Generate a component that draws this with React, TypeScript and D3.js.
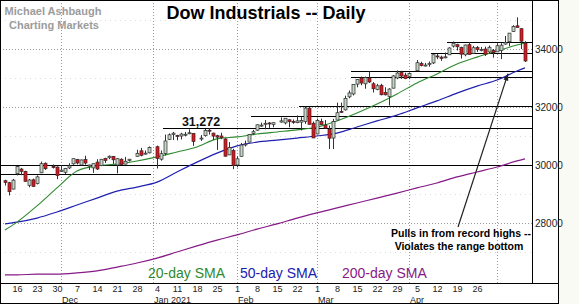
import React from 'react';
import * as d3 from 'd3';

// ---- daily candles (Dow Industrials) ----
const dates = [
  '2020-11-11', '2020-11-12', '2020-11-13', '2020-11-16', '2020-11-17', '2020-11-18', '2020-11-19', '2020-11-20',
  '2020-11-23', '2020-11-24', '2020-11-25', '2020-11-27', '2020-11-30', '2020-12-01', '2020-12-02', '2020-12-03',
  '2020-12-04', '2020-12-07', '2020-12-08', '2020-12-09', '2020-12-10', '2020-12-11', '2020-12-14', '2020-12-15',
  '2020-12-16', '2020-12-17', '2020-12-18', '2020-12-21', '2020-12-22', '2020-12-23', '2020-12-24', '2020-12-28',
  '2020-12-29', '2020-12-30', '2020-12-31', '2021-01-04', '2021-01-05', '2021-01-06', '2021-01-07', '2021-01-08',
  '2021-01-11', '2021-01-12', '2021-01-13', '2021-01-14', '2021-01-15', '2021-01-19', '2021-01-20', '2021-01-21',
  '2021-01-22', '2021-01-25', '2021-01-26', '2021-01-27', '2021-01-28', '2021-01-29', '2021-02-01', '2021-02-02',
  '2021-02-03', '2021-02-04', '2021-02-05', '2021-02-08', '2021-02-09', '2021-02-10', '2021-02-11', '2021-02-12',
  '2021-02-16', '2021-02-17', '2021-02-18', '2021-02-19', '2021-02-22', '2021-02-23', '2021-02-24', '2021-02-25',
  '2021-02-26', '2021-03-01', '2021-03-02', '2021-03-03', '2021-03-04', '2021-03-05', '2021-03-08', '2021-03-09',
  '2021-03-10', '2021-03-11', '2021-03-12', '2021-03-15', '2021-03-16', '2021-03-17', '2021-03-18', '2021-03-19',
  '2021-03-22', '2021-03-23', '2021-03-24', '2021-03-25', '2021-03-26', '2021-03-29', '2021-03-30', '2021-03-31',
  '2021-04-01', '2021-04-05', '2021-04-06', '2021-04-07', '2021-04-08', '2021-04-09', '2021-04-12', '2021-04-13',
  '2021-04-14', '2021-04-15', '2021-04-16', '2021-04-19', '2021-04-20', '2021-04-21', '2021-04-22', '2021-04-23',
  '2021-04-26', '2021-04-27', '2021-04-28', '2021-04-29', '2021-04-30', '2021-05-03', '2021-05-04', '2021-05-05',
  '2021-05-06', '2021-05-07', '2021-05-10', '2021-05-11', '2021-05-12',
];
const opens = [
  29460, 29390, 29170, 29700, 29860, 29780, 29300, 29490, 29360, 29730, 30060, 29950, 29930, 29780, 29750, 29900,
  30040, 30190, 30000, 30190, 29960, 29900, 30100, 29980, 30220, 30250, 30300, 30000, 30200, 30030, 30160, 30300,
  30490, 30400, 30420, 30630, 30200, 30400, 30880, 31050, 31020, 31000, 31060, 31080, 31090, 30900, 31010, 31200,
  31100, 31010, 31000, 30900, 30350, 30500, 30000, 30300, 30720, 30790, 31090, 31200, 31350, 31430, 31450, 31400,
  31480, 31450, 31560, 31500, 31460, 31480, 31500, 31960, 31440, 31070, 31500, 31380, 31240, 30930, 31550, 31850,
  31900, 32350, 32450, 32790, 33000, 32800, 33000, 32800, 32600, 32750, 32500, 32360, 32650, 33000, 33200, 33100,
  33050, 33250, 33500, 33430, 33500, 33520, 33760, 33720, 33700, 33800, 34100, 34150, 34050, 33800, 34150, 33850,
  34050, 33980, 34000, 33900, 33950, 33900, 33950, 34170, 34250, 34600, 34800, 34700, 34200,
];
const highs = [
  29490, 29420, 29520, 29964, 29900, 29800, 29520, 29530, 29640, 30117, 30090, 30020, 29950, 29990, 29900, 30060,
  30220, 30210, 30190, 30320, 30010, 30050, 30200, 30200, 30250, 30330, 30310, 30240, 30230, 30280, 30210, 30525,
  30590, 30500, 30640, 30670, 30500, 31050, 31090, 31140, 31040, 31110, 31140, 31230, 31100, 31030, 31240, 31272,
  31110, 31040, 31110, 30920, 30790, 30560, 30300, 30760, 30840, 31070, 31210, 31400, 31460, 31550, 31480, 31470,
  31640, 31620, 31570, 31570, 31710, 31650, 32010, 32010, 31500, 31600, 31600, 31550, 31360, 31590, 32150, 32150,
  32390, 32570, 32780, 32960, 33050, 33050, 33230, 32860, 32800, 32800, 32680, 32650, 33100, 33260, 33250, 33180,
  33180, 33620, 33560, 33520, 33570, 33810, 33830, 33770, 33880, 34060, 34260, 34180, 34080, 34150, 34240, 34110,
  34100, 34070, 34080, 34120, 34000, 34200, 34200, 34450, 34550, 34820, 35091, 34720, 34270,
];
const lows = [
  29290, 28950, 29160, 29640, 29650, 29420, 29230, 29250, 29330, 29720, 29830, 29880, 29510, 29760, 29690, 29860,
  30010, 30020, 29990, 30010, 29830, 29730, 29830, 29960, 30070, 30200, 30040, 29710, 29990, 30020, 30120, 30290,
  30300, 30360, 30400, 29880, 30150, 30330, 30870, 30860, 30850, 30880, 30990, 31060, 30660, 30830, 30980, 31050,
  30860, 30520, 30890, 30290, 30340, 29856, 29920, 30290, 30640, 30780, 31030, 31180, 31320, 31230, 31280, 31300,
  31460, 31400, 31300, 31420, 31440, 31190, 31420, 31400, 30930, 31060, 31380, 31260, 30550, 30550, 31550, 31800,
  31880, 32300, 32400, 32680, 32750, 32630, 32830, 32500, 32580, 32400, 32400, 32050, 32640, 32960, 32970, 32960,
  32960, 33240, 33400, 33400, 33390, 33480, 33650, 33590, 33680, 33790, 34050, 33950, 33670, 33750, 33800, 33830,
  33900, 33920, 33760, 33850, 33700, 33900, 33650, 34150, 34100, 34590, 34740, 34000, 33550,
];
const closes = [
  29397, 29080, 29479, 29950, 29783, 29438, 29483, 29263, 29591, 30046, 29872, 29910, 29638, 29823, 29883, 29969,
  30218, 30069, 30174, 30068, 29999, 30046, 29861, 30199, 30155, 30303, 30179, 30216, 30015, 30129, 30199, 30403,
  30335, 30409, 30606, 30223, 30391, 30829, 31041, 31097, 31008, 31068, 31060, 31112, 30814, 30930, 31188, 31176,
  30997, 30960, 30937, 30303, 30603, 29983, 30212, 30688, 30724, 31056, 31148, 31386, 31375, 31438, 31430, 31458,
  31523, 31613, 31494, 31494, 31522, 31537, 31962, 31402, 30932, 31535, 31391, 31270, 30924, 31496, 31802, 31833,
  32297, 32486, 32779, 32953, 32826, 33015, 32862, 32628, 32732, 32423, 32420, 32619, 33072, 33171, 33067, 32982,
  33153, 33527, 33430, 33446, 33503, 33801, 33746, 33677, 33730, 34035, 34200, 34077, 33821, 34137, 33815, 34043,
  33981, 33984, 33820, 34060, 33874, 34113, 34133, 34230, 34548, 34778, 34742, 34269, 33587,
];

// ---- moving averages ----
const smaDates = [
  '2020-11-11', '2020-11-16', '2020-11-23', '2020-11-30', '2020-12-07', '2020-12-14', '2020-12-21', '2020-12-28',
  '2021-01-04', '2021-01-11', '2021-01-18', '2021-01-25', '2021-02-01', '2021-02-08', '2021-02-15', '2021-02-22',
  '2021-03-01', '2021-03-08', '2021-03-15', '2021-03-22', '2021-03-29', '2021-04-05', '2021-04-12', '2021-04-19',
  '2021-04-26', '2021-05-03', '2021-05-10', '2021-05-12',
];
const sma20 = [
  27760, 28030, 28590, 29210, 29790, 29970, 30030, 30140, 30280, 30450, 30620, 30900, 30970, 31070, 31140, 31210,
  31310, 31520, 31790, 32100, 32450, 32830, 33140, 33480, 33720, 33930, 34140, 34210,
];
const sma50 = [
  27970, 28030, 28170, 28380, 28620, 28860, 29100, 29240, 29410, 29760, 30100, 30410, 30660, 30790, 30860, 30930,
  31000, 31100, 31310, 31520, 31720, 31970, 32210, 32480, 32720, 32930, 33240, 33350,
];
const sma200 = [
  26210, 26210, 26240, 26240, 26280, 26350, 26480, 26620, 26790, 27000, 27210, 27410, 27590, 27790, 27970, 28170,
  28350, 28520, 28690, 28860, 29030, 29210, 29380, 29590, 29760, 29930, 30140, 30210,
];

// ---- horizontal support / resistance levels ----
const levels = [34256, 33850, 33230, 33030, 32050, 31690, 31272, 30000, 29685];
const levelFrom = ['2021-04-15', '2021-04-09', '2021-03-12', '2021-03-12', '2021-02-23', '2021-02-05', '2021-01-06', null, null];
const levelTo = [null, null, null, null, null, null, null, null, '2020-12-31'];

// ---- axes ----
const yTicks = [28000, 30000, 32000, 34000];
const yMinor = [27000, 29000, 31000, 33000, 35000];
const weekTicks = [
  '2020-11-16', '2020-11-23', '2020-11-30', '2020-12-07', '2020-12-14', '2020-12-21', '2020-12-28', '2021-01-04',
  '2021-01-11', '2021-01-18', '2021-01-25', '2021-02-01', '2021-02-08', '2021-02-15', '2021-02-22', '2021-03-01',
  '2021-03-08', '2021-03-15', '2021-03-22', '2021-03-29', '2021-04-05', '2021-04-12', '2021-04-19', '2021-04-26',
];
const monthStarts = ['2020-12-01', '2021-01-01', '2021-02-01', '2021-03-01', '2021-04-01', '2021-05-03'];
const monthLabels = ['Dec', 'Jan 2021', 'Feb', 'Mar', 'Apr', ''];

const W = 579;
const H = 304;
const FRAME_R = 559;
const PLOT_R = 532;
const PLOT_B = 283;
const FONT = '"Liberation Sans", Arial, Helvetica, sans-serif';

const GREEN = '#2f8a2f';
const BLUE = '#2020b0';
const PURPLE = '#861a86';

const parse = d3.timeParse('%Y-%m-%d');
const fmt = d3.timeFormat('%Y-%m-%d');
const dayFmt = d3.timeFormat('%-d');

// every weekday gets a slot, holidays stay empty
const start = parse(dates[0])!;
const end = d3.timeDay.offset(parse(dates[dates.length - 1])!, 1);
const weekdays = d3.timeDay.range(start, end).filter(d => d.getDay() % 6 !== 0).map(fmt);

const x = d3.scalePoint<string>().domain(weekdays).range([5, 525]);
const y = d3.scaleLinear().domain([30000, 34000]).range([165, 49]);
const X = (d: string) => x(d) as number;

export default function App() {
  const smaLine = (vals: number[]) =>
    d3.line<number>()
      .x((_, i) => X(smaDates[i]))
      .y(v => y(v))
      .curve(d3.curveMonotoneX)(vals) || '';

  const tip = { x: X('2021-05-05') + 3, y: y(33150) };
  const tail = { x: 458, y: 227 };
  const ang = Math.atan2(tip.y - tail.y, tip.x - tail.x);
  const ah = 7;
  const head = [
    [tip.x, tip.y],
    [tip.x - ah * Math.cos(ang) + 2.5 * Math.sin(ang), tip.y - ah * Math.sin(ang) - 2.5 * Math.cos(ang)],
    [tip.x - ah * Math.cos(ang) - 2.5 * Math.sin(ang), tip.y - ah * Math.sin(ang) + 2.5 * Math.cos(ang)],
  ].map(p => p.join(',')).join(' ');

  return (
    <div style={{ position: 'absolute', left: 0, top: 0 }}>
      <svg width={W} height={H} style={{ display: 'block', fontFamily: FONT }}>
        <defs>
          <clipPath id="plot">
            <rect x={0} y={0} width={PLOT_R} height={PLOT_B} />
          </clipPath>
        </defs>
        <rect width={W} height={H} fill="#fff" />
        <rect x={FRAME_R} y={0} width={W - FRAME_R} height={H} fill="#fafaf4" />

        {/* grid */}
        <g shapeRendering="crispEdges">
          {yMinor.map(v => (
            <line key={v} x1={0} x2={PLOT_R} y1={Math.round(y(v)) + 0.5} y2={Math.round(y(v)) + 0.5}
              stroke="#dcdcdc" strokeDasharray="1,4" />
          ))}
          {yTicks.map(v => (
            <line key={v} x1={0} x2={PLOT_R} y1={Math.round(y(v)) + 0.5} y2={Math.round(y(v)) + 0.5}
              stroke="#9a9a9a" strokeDasharray="1,2" />
          ))}
          {monthStarts.map(d => (
            <line key={d} x1={X(d) + 0.5} x2={X(d) + 0.5} y1={0} y2={PLOT_B}
              stroke="#9a9a9a" strokeDasharray="1,2" />
          ))}
        </g>

        <g clipPath="url(#plot)">
          {/* levels */}
          <g shapeRendering="crispEdges">
            {levels.map((v, i) => {
              const x1 = levelFrom[i] ? X(levelFrom[i]!) - 2 : 0;
              const x2 = levelTo[i] ? X(levelTo[i]!) + 2 : PLOT_R;
              const yy = Math.round(y(v)) + 0.5;
              return <line key={v} x1={x1} x2={x2} y1={yy} y2={yy} stroke="#000" strokeWidth={1} />;
            })}
          </g>

          {/* moving averages */}
          <path d={smaLine(sma200)} fill="none" stroke={PURPLE} strokeWidth={1.2} />
          <path d={smaLine(sma50)} fill="none" stroke={BLUE} strokeWidth={1.2} />
          <path d={smaLine(sma20)} fill="none" stroke={GREEN} strokeWidth={1.1} />

          {/* candles */}
          {dates.map((d, i) => {
            const cx = X(d);
            const o = opens[i], c = closes[i];
            const up = c >= o;
            const top = y(Math.max(o, c));
            const bot = y(Math.min(o, c));
            return (
              <g key={d}>
                <line x1={cx + 0.5} x2={cx + 0.5} y1={y(highs[i])} y2={y(lows[i])} stroke="#333" strokeWidth={1} />
                <rect x={cx - 1} y={top} width={3} height={Math.max(1, bot - top)}
                  fill={up ? '#c6d6c6' : '#e8121a'} stroke="#2a2a2a" strokeWidth={0.7} />
              </g>
            );
          })}
        </g>

        {/* frame */}
        <g shapeRendering="crispEdges" stroke="#000" fill="none">
          <rect x={0.5} y={0.5} width={FRAME_R - 1} height={H - 1} />
          <line x1={PLOT_R + 0.5} x2={PLOT_R + 0.5} y1={0} y2={PLOT_B} />
          <line x1={0} x2={FRAME_R} y1={PLOT_B + 0.5} y2={PLOT_B + 0.5} />
        </g>

        {/* y axis */}
        {yTicks.map(v => (
          <text key={v} x={535} y={y(v) + 3.5} fontSize={10} fill="#222">{v}</text>
        ))}

        {/* x axis */}
        {weekTicks.map(d => (
          <text key={d} x={X(d) + 0.5} y={292} fontSize={9} fill="#222" textAnchor="middle">
            {dayFmt(parse(d)!)}
          </text>
        ))}
        {monthStarts.map((d, i) => (
          <text key={d} x={X(d) + 1} y={302.5} fontSize={9} fill="#222">{monthLabels[i]}</text>
        ))}

        {/* titles */}
        <text x={266} y={19} fontSize={18} fontWeight="bold" textAnchor="middle" fill="#000">
          Dow Industrials -- Daily
        </text>
        <text x={53} y={15} fontSize={11} fontWeight="bold" textAnchor="middle" fill="#9c9c9c">Michael Ashbaugh</text>
        <text x={54} y={29} fontSize={11} fontWeight="bold" textAnchor="middle" fill="#9c9c9c">Charting Markets</text>

        <text x={X('2021-01-19')} y={y(31272) - 2.5} fontSize={12.5} fontWeight="bold" textAnchor="middle" fill="#111">
          31,272
        </text>

        {/* annotation */}
        <line x1={tail.x} y1={tail.y} x2={tip.x} y2={tip.y} stroke="#222" strokeWidth={1.2} />
        <polygon points={head} fill="#222" />
        <text x={461} y={237} fontSize={10.5} fontWeight="bold" textAnchor="middle" fill="#000">
          Pulls in from record highs --
        </text>
        <text x={459} y={250} fontSize={10.5} fontWeight="bold" textAnchor="middle" fill="#000">
          Violates the range bottom
        </text>

        {/* legend */}
        <text x={148} y={278} fontSize={14} fill={GREEN}>20-day SMA</text>
        <text x={240} y={278} fontSize={14} fill={BLUE}>50-day SMA</text>
        <text x={342} y={278} fontSize={14} fill={PURPLE}>200-day SMA</text>
      </svg>
    </div>
  );
}
